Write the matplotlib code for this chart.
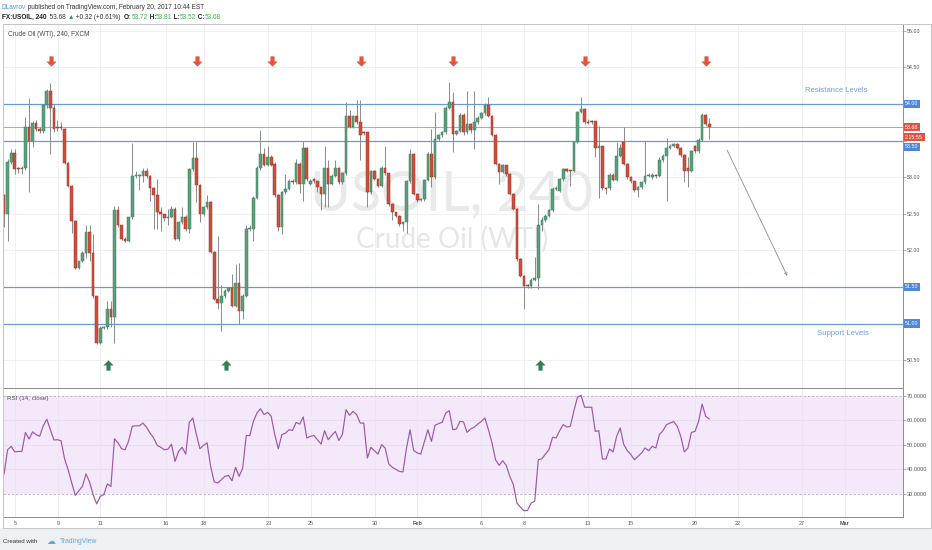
import matplotlib
matplotlib.use('Agg')
import matplotlib.pyplot as plt
from matplotlib.path import Path
from matplotlib.patches import Rectangle
import matplotlib.transforms as mtransforms
import numpy as np

# ---------------- data ----------------
opens = [52.75, 52.49, 53.20, 53.33, 53.13, 53.11, 53.13, 53.69, 53.50, 53.74,
         53.66, 53.63, 53.98, 54.18, 53.95, 53.68, 53.68, 53.66, 53.19, 52.88,
         52.40, 51.76, 51.85, 51.97, 52.25, 51.97, 51.37, 50.74, 50.94, 50.95,
         51.20, 51.09, 52.55, 52.34, 52.16, 52.13, 52.45, 53.01, 53.01, 53.01,
         53.09, 53.01, 52.85, 52.75, 52.53, 52.49, 52.44, 52.46, 52.57, 52.16,
         52.38, 52.46, 52.29, 53.11, 53.26, 52.89, 52.49, 52.59, 52.66, 51.98,
         51.34, 51.28, 51.37, 51.45, 51.48, 51.24, 51.55, 51.17, 51.38, 52.29,
         52.29, 52.72, 53.13, 53.32, 53.17, 53.27, 53.18, 52.75, 52.32, 52.79,
         52.84, 52.95, 52.93, 53.18, 52.91, 53.40, 52.91, 52.98, 52.94, 52.86,
         52.77, 53.12, 52.91, 53.02, 53.13, 52.93, 53.05, 53.83, 53.69, 53.83,
         53.75, 53.61, 53.61, 52.79, 53.09, 52.98, 52.88, 53.13, 53.05, 52.63,
         52.52, 52.47, 52.36, 52.38, 52.94, 53.32, 52.77, 52.69, 52.70, 52.96,
         53.32, 53.00, 53.52, 53.57, 53.61, 53.95, 54.02, 53.59, 53.63, 53.85,
         53.61, 53.72, 53.65, 53.75, 53.81, 53.87, 53.99, 53.84, 53.58, 53.18,
         53.07, 53.16, 53.04, 52.77, 52.57, 51.88, 51.65, 51.53, 51.51, 51.60,
         51.62, 52.35, 52.41, 52.47, 52.55, 52.84, 52.81, 52.97, 53.11, 53.09,
         53.09, 53.48, 53.89, 53.93, 53.75, 53.76, 53.76, 53.40, 53.42, 52.85,
         52.85, 53.03, 52.96, 53.29, 53.48, 53.18, 53.00, 52.94, 52.82, 52.86,
         52.93, 53.02, 53.00, 53.03, 53.02, 53.23, 53.29, 53.40, 53.43, 53.45,
         53.40, 53.30, 53.13, 53.09, 53.42, 53.35, 53.51, 53.85, 53.72]
highs = [52.77, 53.25, 53.39, 53.39, 53.14, 53.15, 53.82, 54.08, 53.77, 53.78,
         53.68, 54.00, 54.20, 54.28, 54.00, 53.78, 53.75, 53.67, 53.20, 52.89,
         52.41, 51.86, 51.99, 52.34, 52.34, 52.22, 51.38, 50.96, 50.97, 51.31,
         51.31, 52.61, 52.61, 52.35, 52.18, 52.46, 53.46, 53.09, 53.04, 53.13,
         53.12, 53.03, 52.86, 52.98, 52.59, 52.50, 52.57, 52.60, 52.59, 52.40,
         52.59, 52.48, 53.12, 53.48, 53.48, 52.90, 52.61, 52.75, 52.68, 51.99,
         52.20, 51.53, 51.47, 51.50, 51.68, 51.81, 51.83, 51.40, 52.34, 52.34,
         52.74, 53.15, 53.64, 53.40, 53.43, 53.30, 53.20, 52.77, 52.81, 53.04,
         52.97, 52.97, 53.25, 53.20, 53.50, 53.41, 52.97, 52.99, 52.95, 52.87,
         53.43, 53.23, 53.04, 53.23, 53.14, 53.07, 54.02, 53.92, 53.85, 54.05,
         54.05, 53.63, 53.62, 53.10, 53.10, 52.99, 53.15, 53.43, 53.06, 52.64,
         52.53, 52.48, 52.40, 52.96, 53.39, 53.33, 52.78, 52.72, 52.97, 53.34,
         53.66, 53.89, 53.59, 53.63, 53.97, 54.30, 54.16, 53.65, 53.87, 53.87,
         54.18, 53.74, 54.18, 53.83, 53.89, 54.01, 54.09, 53.85, 53.59, 53.19,
         53.18, 53.17, 53.05, 52.78, 52.58, 51.89, 51.66, 51.54, 51.62, 51.91,
         52.63, 52.45, 52.50, 52.57, 52.86, 52.88, 52.99, 53.13, 53.13, 53.10,
         53.50, 53.90, 54.09, 53.95, 53.80, 53.78, 53.77, 53.70, 53.43, 52.86,
         53.05, 53.05, 53.48, 53.45, 53.68, 53.19, 53.01, 52.95, 52.88, 52.95,
         53.50, 53.05, 53.05, 53.04, 53.27, 53.31, 53.54, 53.45, 53.47, 53.47,
         53.41, 53.31, 53.27, 53.37, 53.44, 53.53, 53.87, 53.86, 53.81]
lows = [52.32, 52.13, 53.18, 53.04, 53.05, 53.04, 53.10, 52.79, 53.41, 53.63,
        53.60, 53.60, 53.95, 53.32, 53.61, 53.63, 53.64, 53.18, 52.86, 52.23,
        51.75, 51.74, 51.84, 51.90, 51.86, 51.35, 50.72, 50.72, 50.92, 50.93,
        50.95, 50.74, 52.32, 52.14, 52.11, 52.11, 52.43, 52.99, 52.82, 52.93,
        52.99, 52.68, 52.29, 52.29, 52.27, 52.40, 52.34, 52.44, 52.14, 52.13,
        52.36, 52.26, 52.23, 53.09, 52.66, 52.38, 52.47, 52.57, 51.96, 51.32,
        51.20, 50.90, 51.35, 51.43, 51.22, 51.22, 51.00, 51.06, 51.36, 52.27,
        52.13, 52.70, 53.10, 53.15, 53.15, 53.15, 52.73, 52.27, 52.22, 52.77,
        52.82, 52.90, 52.90, 52.78, 52.68, 52.95, 52.89, 52.92, 52.80, 52.55,
        52.59, 52.59, 52.89, 53.00, 52.90, 52.90, 53.03, 53.67, 53.67, 53.73,
        53.23, 53.58, 52.59, 52.77, 52.96, 52.86, 52.86, 53.03, 52.61, 52.42,
        52.45, 52.33, 52.27, 52.23, 52.92, 52.75, 52.66, 52.67, 52.68, 52.94,
        52.86, 52.98, 53.50, 53.55, 53.59, 53.93, 53.34, 53.57, 53.61, 53.58,
        53.59, 53.60, 53.39, 53.73, 53.79, 53.85, 53.82, 53.56, 53.16, 52.91,
        53.05, 53.02, 52.75, 52.55, 51.86, 51.63, 51.20, 51.49, 51.48, 51.58,
        51.47, 52.27, 52.39, 52.45, 52.53, 52.82, 52.79, 52.95, 53.07, 52.88,
        53.07, 53.46, 53.87, 53.73, 53.72, 53.73, 53.27, 52.72, 52.83, 52.77,
        52.83, 52.94, 52.94, 53.27, 53.16, 52.98, 52.92, 52.80, 52.73, 52.84,
        52.91, 53.00, 52.98, 52.99, 53.00, 53.21, 52.68, 53.38, 53.41, 53.38,
        53.28, 52.93, 52.87, 53.07, 53.33, 53.33, 53.49, 53.70, 53.52]
closes = [52.49, 53.20, 53.33, 53.11, 53.11, 53.13, 53.69, 53.50, 53.74, 53.66,
          53.63, 53.98, 54.18, 53.95, 53.66, 53.67, 53.67, 53.19, 52.88, 52.40,
          51.76, 51.85, 51.97, 52.25, 51.97, 51.37, 50.74, 50.94, 50.95, 51.20,
          51.09, 52.55, 52.34, 52.16, 52.13, 52.45, 53.01, 53.02, 53.02, 53.09,
          53.01, 52.85, 52.75, 52.53, 52.49, 52.44, 52.46, 52.57, 52.16, 52.38,
          52.46, 52.29, 53.11, 53.26, 52.89, 52.49, 52.59, 52.66, 51.98, 51.34,
          51.28, 51.37, 51.45, 51.48, 51.24, 51.55, 51.17, 51.38, 52.29, 52.30,
          52.72, 53.13, 53.32, 53.17, 53.27, 53.17, 52.75, 52.32, 52.79, 52.84,
          52.95, 52.93, 53.19, 52.91, 53.40, 52.98, 52.95, 52.94, 52.86, 52.77,
          53.12, 52.91, 53.02, 53.13, 52.93, 53.05, 53.83, 53.69, 53.83, 53.75,
          53.57, 53.60, 52.79, 53.09, 52.98, 52.88, 53.13, 53.05, 52.63, 52.52,
          52.47, 52.36, 52.38, 52.94, 53.32, 52.77, 52.69, 52.70, 52.96, 53.32,
          53.00, 53.52, 53.57, 53.61, 53.95, 54.02, 53.59, 53.63, 53.85, 53.61,
          53.72, 53.65, 53.75, 53.81, 53.87, 53.99, 53.84, 53.58, 53.18, 53.07,
          53.16, 53.04, 52.77, 52.57, 51.88, 51.65, 51.51, 51.51, 51.60, 51.62,
          52.35, 52.41, 52.47, 52.55, 52.84, 52.85, 52.97, 53.11, 53.09, 53.08,
          53.48, 53.89, 53.93, 53.75, 53.74, 53.75, 53.40, 53.42, 52.85, 52.84,
          53.03, 52.96, 53.29, 53.40, 53.18, 53.00, 52.94, 52.82, 52.86, 52.93,
          53.02, 53.03, 53.03, 53.01, 53.23, 53.29, 53.40, 53.43, 53.45, 53.40,
          53.30, 53.09, 53.08, 53.35, 53.35, 53.51, 53.85, 53.72, 53.68]
rsi = [38.1, 48.0, 49.4, 47.1, 47.3, 47.3, 55.1, 52.4, 55.3, 54.2,
       53.5, 57.8, 60.5, 56.2, 52.0, 52.1, 51.7, 44.2, 39.8, 34.4,
       29.3, 31.2, 33.0, 38.1, 34.8, 29.6, 25.8, 28.9, 29.6, 34.0,
       33.0, 52.5, 50.8, 48.4, 48.0, 51.7, 57.6, 57.8, 57.8, 58.9,
       57.2, 54.8, 52.8, 49.8, 49.0, 48.0, 48.2, 50.3, 43.2, 47.3,
       49.0, 46.2, 59.2, 61.0, 54.2, 48.4, 49.8, 50.8, 41.2, 34.8,
       34.4, 35.7, 37.1, 37.5, 35.3, 40.8, 37.1, 40.5, 53.8, 53.8,
       59.6, 63.0, 64.8, 62.4, 63.3, 61.7, 54.2, 48.4, 54.2, 54.8,
       56.2, 55.9, 59.2, 58.5, 61.4, 52.8, 53.5, 53.8, 52.1, 50.3,
       55.8, 52.1, 53.9, 55.5, 51.8, 54.2, 64.4, 62.1, 63.7, 62.4,
       58.9, 58.9, 44.6, 49.0, 47.6, 46.2, 50.1, 48.7, 42.2, 40.8,
       40.0, 39.1, 38.9, 48.7, 56.2, 47.7, 46.7, 46.2, 51.2, 56.2,
       51.4, 58.0, 58.7, 59.2, 63.0, 64.0, 56.2, 56.5, 59.6, 59.4,
       55.1, 56.5, 57.2, 58.5, 59.6, 61.0, 56.2, 50.8, 43.9, 41.6,
       43.5, 41.6, 37.1, 33.7, 26.2, 24.4, 23.0, 23.2, 26.2, 26.9,
       43.9, 44.3, 46.2, 48.0, 53.1, 52.8, 55.8, 58.3, 57.3, 57.6,
       64.0, 69.5, 70.3, 65.4, 65.4, 65.4, 55.5, 55.8, 44.2, 44.2,
       48.3, 47.1, 53.5, 56.9, 50.1, 47.6, 46.0, 43.9, 45.3, 46.7,
       48.7, 47.6, 49.4, 48.7, 54.2, 55.8, 58.3, 58.9, 59.6, 57.6,
       53.5, 47.1, 48.7, 55.1, 55.5, 59.6, 66.7, 61.7, 60.6]

date_tick_labels = ['5', '9', '11', '16', '18', '23', '25', '30', 'Feb', '6', '8',
                    '13', '15', '20', '22', '27', 'Mar']
date_tick_bars = [3.1, 15.2, 27.0, 45.4, 56.0, 74.2, 86.1, 104.2, 116.0, 133.9,
                  146.1, 164.0, 176.0, 194.0, 206.0, 224.0, 236.0]
price_ticks = [50.5, 51.0, 51.5, 52.0, 52.5, 53.0, 53.5, 54.0, 54.5, 55.0]
# labels at 51.00, 51.50, 53.50 and 54.00 are shown by the coloured boxes instead
price_tick_labels = ['50.50', '', '', '52.00', '52.50', '53.00', '', '', '54.50', '55.00']
rsi_ticks = [30, 40, 50, 60, 70]
rsi_tick_labels = ['30.0000', '40.0000', '50.0000', '60.0000', '70.0000']

level_prices = [54.00, 53.50, 51.50, 51.00]
last_price = 53.68
box_prices = [54.00, 53.68, 53.544, 53.415, 51.50, 51.00]
box_texts = ['54.00', '53.68', '2:15:55', '53.50', '51.50', '51.00']
box_colors = ['#4f87d9', '#e0533f', '#e0533f', '#4f87d9', '#4f87d9', '#4f87d9']
down_arrow_bars = [13.2, 54.1, 75.2, 100.2, 126.1, 163.1, 197.1]
down_arrow_price = 54.58
up_arrow_bars = [29.1, 62.2, 150.5]
up_arrow_price = 50.43
trend_start = (203.0, 53.37)
trend_end = (219.9, 51.65)

# ---------------- figure ----------------
W, H = 932, 550
FAM = ['Liberation Sans', 'DejaVu Sans']
plt.rcParams['font.family'] = FAM
fig = plt.figure(figsize=(W / 100, H / 100), dpi=100)
fig.patch.set_facecolor('white')


def fx(px):
    return px / W


def fy(py):
    return 1 - py / H


# footer band
fig.patches.append(Rectangle((0, 0), 1, 22 / H, transform=fig.transFigure,
                             facecolor='#eef1f4', edgecolor='none', zorder=0))

ax = fig.add_axes([fx(3), fy(388), fx(903) - fx(3), (388 - 24) / H])
rx = fig.add_axes([fx(3), fy(517), fx(903) - fx(3), (517 - 389) / H])

n = len(closes)
idx = np.arange(n)
o = np.array(opens); h = np.array(highs); l = np.array(lows); c = np.array(closes)
XL = (-0.3, 252.4)

# ----- main pane -----
ax.set_xlim(*XL)
ax.set_ylim(50.119, 55.0915)
ax.set_axisbelow(True)
ax.set_xticks(date_tick_bars)
ax.set_yticks(price_ticks)
ax.set_yticklabels(price_tick_labels)
ax.yaxis.tick_right()
ax.tick_params(axis='y', length=1.8, width=0.5, color='#888888', labelsize=3.8,
               labelcolor='#555555', pad=1.2)
ax.tick_params(axis='x', length=0, labelbottom=False)
ax.grid(True, color='#efefef', lw=0.6)
for s in ['top', 'left']:
    ax.spines[s].set_color('#cfcfcf'); ax.spines[s].set_linewidth(0.6)
for s in ['right', 'bottom']:
    ax.spines[s].set_color('#8c8c8c'); ax.spines[s].set_linewidth(0.7)

# watermark
ax.text(0.4978, 0.489, 'USOIL, 240', transform=ax.transAxes, ha='center', va='baseline',
        fontsize=40, color='#e9e9e9', family=['Lato', 'DejaVu Sans'], zorder=1)
ax.text(0.4994, 0.3846, 'Crude Oil (WTI)', transform=ax.transAxes, ha='center',
        va='baseline', fontsize=20, color='#e6e6e6', family=['Lato', 'DejaVu Sans'], zorder=1)

# levels
for p in level_prices:
    ax.axhline(p, color='#6b98dc', lw=0.9, zorder=2)
ax.axhline(last_price, color='#ec9684', lw=0.75, zorder=2)

# candles
up = c >= o
dn = ~up
ax.vlines(idx, l, h, color='#8a8a8a', lw=0.7, zorder=3)
bot = np.minimum(o, c)
hgt = np.maximum(np.abs(c - o), 0.012)
ax.bar(idx[up], hgt[up], bottom=bot[up], width=0.74, color='#5a9f7b',
       edgecolor='#3f7b5b', linewidth=0.35, zorder=4)
ax.bar(idx[dn], hgt[dn], bottom=bot[dn], width=0.74, color='#cc4f3c',
       edgecolor='#993426', linewidth=0.35, zorder=4)

# arrows
down_path = Path([(-0.2, 0.5), (0.2, 0.5), (0.2, 0.0), (0.5, 0.0), (0.0, -0.5),
                  (-0.5, 0.0), (-0.2, 0.0), (-0.2, 0.5)], closed=True)
up_path = Path([(-0.2, -0.5), (0.2, -0.5), (0.2, 0.0), (0.5, 0.0), (0.0, 0.5),
                (-0.5, 0.0), (-0.2, 0.0), (-0.2, -0.5)], closed=True)
ax.scatter(down_arrow_bars, [down_arrow_price] * len(down_arrow_bars), marker=down_path,
           s=55, color='#e2553d', linewidths=0, zorder=6)
ax.scatter(up_arrow_bars, [up_arrow_price] * len(up_arrow_bars), marker=up_path,
           s=55, color='#2f7f57', linewidths=0, zorder=6)

ax.annotate('', xy=trend_end, xytext=trend_start,
            arrowprops=dict(arrowstyle='->', color='#8c8c8c', lw=0.6,
                            mutation_scale=5, shrinkA=0, shrinkB=0), zorder=5)

ax.text(233.6, 54.18, 'Resistance Levels', ha='center', va='center', fontsize=5.5,
        color='#6a9ee0', zorder=6)
ax.text(235.4, 50.87, 'Support Levels', ha='center', va='center', fontsize=5.6,
        color='#6a9ee0', zorder=6)

ax.text(fx(8) - fx(3), 1 - (35 - 24) / (388 - 24), 'Crude Oil (WTI), 240, FXCM',
        transform=ax.transAxes, ha='left', va='center', fontsize=4.7, color='#4a4a4a')

# price boxes on the axis
trans = mtransforms.blended_transform_factory(ax.transAxes, ax.transData)
for p, t, col in zip(box_prices, box_texts, box_colors):
    ax.text(1.0024, p, t, transform=trans, ha='left', va='center', fontsize=3.8,
            color='white', clip_on=False, zorder=10,
            bbox=dict(boxstyle='square,pad=0.3', fc=col, ec='none'))

# ----- RSI pane -----
rx.set_xlim(*XL)
rx.set_ylim(20.45, 72.87)
rx.axhspan(30, 70, color='#f4e8fb', zorder=0, lw=0)
for v in [40, 50, 60]:
    rx.axhline(v, color='#e6dcee', lw=0.6, zorder=1)
for b in date_tick_bars:
    rx.axvline(b, color='#ebe4f0', lw=0.6, zorder=1)
rx.axhline(70, color='#bdb0c4', lw=0.6, ls=(0, (3, 2)), zorder=2)
rx.axhline(30, color='#bdb0c4', lw=0.6, ls=(0, (3, 2)), zorder=2)
rx.plot(idx, rsi, color='#9a58a6', lw=0.85, zorder=3)
rx.set_yticks(rsi_ticks)
rx.set_yticklabels(rsi_tick_labels)
rx.yaxis.tick_right()
rx.tick_params(axis='y', length=1.8, width=0.5, color='#888888', labelsize=4,
               labelcolor='#555555', pad=1.2)
rx.set_xticks(date_tick_bars)
rx.set_xticklabels(date_tick_labels)
rx.tick_params(axis='x', length=0, labelsize=4, labelcolor='#555555', pad=2.6)
for lab in rx.get_xticklabels():
    if lab.get_text() in ('Feb', 'Mar'):
        lab.set_fontweight('bold')
rx.spines['top'].set_visible(False)
rx.spines['left'].set_color('#cfcfcf'); rx.spines['left'].set_linewidth(0.6)
for s in ['right', 'bottom']:
    rx.spines[s].set_color('#8c8c8c'); rx.spines[s].set_linewidth(0.7)
rx.text(fx(7) - fx(3), 1 - (398.7 - 389) / (517 - 389), 'RSI (14, close)',
        transform=rx.transAxes, ha='left', va='center', fontsize=4.5, color='#555555')

# outer frame
fig.patches.append(Rectangle((fx(2.5), fy(528)), fx(930.5) - fx(2.5), (528 - 24) / H,
                             transform=fig.transFigure, fill=False,
                             edgecolor='#c4c4c4', lw=0.7, zorder=5))

# ----- header / footer texts -----
renderer = fig.canvas.get_renderer()


def seq(parts, x, y, size):
    for s, col, wt in parts:
        t = fig.text(fx(x), fy(y), s, fontsize=size, color=col, fontweight=wt,
                     ha='left', va='baseline', family=FAM)
        bb = t.get_window_extent(renderer=renderer)
        x += bb.width


seq([('DLavrov', '#4a8fd8', 'normal'),
     (' published on TradingView.com, February 20, 2017 10:44 EST', '#333333', 'normal')],
    2, 8.6, 4.7)
G = '#45ad4f'
seq([('FX:USOIL, 240', '#222222', 'bold'),
     ('  53.68 ', '#333333', 'normal'),
     ('\u25B2', '#2e9e4f', 'normal'),
     (' +0.32 (+0.61%)  ', '#333333', 'normal'),
     ('O:', '#222222', 'bold'), ('53.72', G, 'normal'),
     (' H:', '#222222', 'bold'), ('53.81', G, 'normal'),
     (' L:', '#222222', 'bold'), ('53.52', G, 'normal'),
     (' C:', '#222222', 'bold'), ('53.68', G, 'normal')],
    2, 19.2, 4.7)

fig.text(fx(3), fy(541.5), 'Created with', fontsize=4.4, color='#333333', ha='left',
         va='center')
fig.text(fx(47), fy(541), '\u2601', fontsize=6.5, color='#5fa8e0', ha='left',
         va='center', family=['DejaVu Sans'])
fig.text(fx(60), fy(541.5), 'TradingView', fontsize=4.9, color='#5fa8e0', ha='left',
         va='center')

fig.savefig('out.png', dpi=100, facecolor=fig.get_facecolor())
